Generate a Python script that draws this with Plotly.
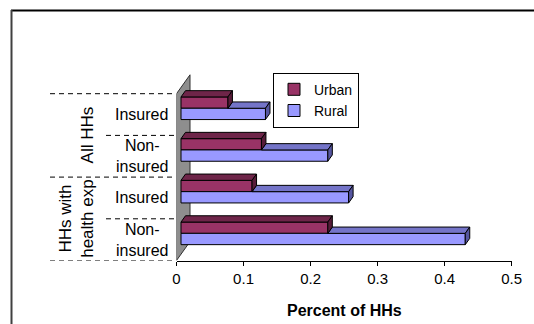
import plotly.graph_objects as go

# ---- data -------------------------------------------------------------
categories = ["Insured", "Non-<br>insured", "Insured", "Non-<br>insured"]
groups = ["All HHs", "HHs with<br>health exp"]
urban = [0.070, 0.120, 0.106, 0.219]
rural = [0.126, 0.219, 0.250, 0.424]
x_ticks = [0, 0.1, 0.2, 0.3, 0.4, 0.5]
x_title = "Percent of HHs"

# ---- layout geometry (pixels on a 534x324 canvas) ---------------------
W, H = 534, 324
X0_PX, X1_PX = 176.5, 511.7      # value axis 0 .. 0.5
Y0_PX = 260.5                    # floor line
CAT_PX = 41.7                    # height of one category band
X_MAX = 0.5
Y_MAX = 4.5                      # room above the last band for the 3-D wall
Y1_PX = Y0_PX - Y_MAX * CAT_PX

sx = X_MAX / (X1_PX - X0_PX)     # data units per pixel (x)
sy = 1.0 / CAT_PX                # data units per pixel (y)

# oblique 3-D projection: one depth step, bar thickness
dx, dy = 4.5 * sx, 6.3 * sy
bar_h = 11.3 * sy

URBAN_FRONT, URBAN_TOP, URBAN_SIDE = "#993366", "#6E2549", "#571C39"
RURAL_FRONT, RURAL_TOP, RURAL_SIDE = "#9999FF", "#7474C8", "#5656A0"
FONT = "Liberation Sans, Arial, sans-serif"

n = len(categories)
centers = [n - 0.5 - i for i in range(n)]

fig = go.Figure()

# front faces of the bars (set back one depth step from the floor front)
fig.add_trace(go.Bar(
    name="Urban", orientation="h", y=centers, x=urban, base=dx,
    width=bar_h, offset=dy,
    marker=dict(color=URBAN_FRONT, line=dict(color="black", width=1)),
    hoverinfo="skip"))
fig.add_trace(go.Bar(
    name="Rural", orientation="h", y=centers, x=rural, base=dx,
    width=bar_h, offset=dy - bar_h,
    marker=dict(color=RURAL_FRONT, line=dict(color="black", width=1)),
    hoverinfo="skip"))


def faces(polys):
    xs, ys = [], []
    for p in polys:
        for (a, b) in p + [p[0]]:
            xs.append(a)
            ys.append(b)
        xs.append(None)
        ys.append(None)
    return xs, ys


rural_top, rural_side, urban_top, urban_side = [], [], [], []
for c, u, r in zip(centers, urban, rural):
    u_end, r_end = dx + u, dx + r
    u_bot = c + dy
    u_top = u_bot + bar_h
    r_top, r_bot = u_bot, u_bot - bar_h
    if r_end > u_end:
        rural_top.append([(u_end, r_top), (u_end + dx, r_top + dy),
                          (r_end + dx, r_top + dy), (r_end, r_top)])
    rural_side.append([(r_end, r_bot), (r_end, r_top),
                       (r_end + dx, r_top + dy), (r_end + dx, r_bot + dy)])
    urban_top.append([(dx, u_top), (2 * dx, u_top + dy),
                      (u_end + dx, u_top + dy), (u_end, u_top)])
    urban_side.append([(u_end, u_bot), (u_end, u_top),
                       (u_end + dx, u_top + dy), (u_end + dx, u_bot + dy)])

for polys, col in [(rural_top, RURAL_TOP), (rural_side, RURAL_SIDE),
                   (urban_top, URBAN_TOP), (urban_side, URBAN_SIDE)]:
    xs, ys = faces(polys)
    fig.add_trace(go.Scatter(
        x=xs, y=ys, mode="lines", fill="toself", fillcolor=col,
        line=dict(color="black", width=1), showlegend=False,
        hoverinfo="skip"))

shapes = []
# grey side wall behind the category axis
wd_x, wd_y = 3 * dx, 3 * dy
shapes.append(dict(
    type="path", xref="x", yref="y", layer="below",
    path=f"M 0,0 L 0,{n} L {wd_x},{n + wd_y} L {wd_x},{wd_y} Z",
    fillcolor="#8E8E8E", line=dict(color="#303030", width=1)))

# dashed separators of the category labels
for k in range(n + 1):
    full = k % 2 == 0
    shapes.append(dict(
        type="line", xref="paper", yref="y",
        x0=(50 if full else 106) / W, x1=176 / W, y0=k, y1=k,
        line=dict(color="black", width=1, dash="5px,4px")))

# frame around the chart area
shapes.append(dict(type="line", xref="paper", yref="paper",
                   x0=11 / W, x1=1, y0=1 - 10.5 / H, y1=1 - 10.5 / H,
                   line=dict(color="black", width=2)))
shapes.append(dict(type="line", xref="paper", yref="paper",
                   x0=11.5 / W, x1=11.5 / W, y0=0, y1=1 - 10 / H,
                   line=dict(color="#404040", width=2)))

annotations = []
for c, lab in zip(centers, categories):
    annotations.append(dict(
        xref="paper", yref="y", x=170 / W, y=c, xanchor="right",
        yanchor="middle", text=lab, showarrow=False, align="center",
        font=dict(family=FONT, size=16, color="black")))
for g, (gx, gy) in zip(groups, [(87, 3.0), (77, 1.0)]):
    annotations.append(dict(
        xref="paper", yref="y", x=gx / W, y=gy, xanchor="center",
        yanchor="middle", text=g, showarrow=False, textangle=-90,
        align="center", font=dict(family=FONT, size=17, color="black")))
annotations.append(dict(
    xref="paper", yref="paper", x=(X0_PX + X1_PX) / 2 / W, y=1 - 310 / H,
    xanchor="center", yanchor="middle", text=f"<b>{x_title}</b>",
    showarrow=False, font=dict(family=FONT, size=16, color="black")))

fig.update_layout(
    width=W, height=H, autosize=False,
    margin=dict(l=0, r=0, t=0, b=0, pad=0),
    paper_bgcolor="white", plot_bgcolor="white",
    barmode="overlay", hovermode=False,
    shapes=shapes, annotations=annotations,
    xaxis=dict(
        domain=[X0_PX / W, X1_PX / W], range=[0, X_MAX],
        tickvals=x_ticks, ticktext=[f"{t:g}" for t in x_ticks],
        showgrid=False, zeroline=False, showline=True,
        linecolor="black", linewidth=1, ticks="outside", ticklen=4,
        tickwidth=1, tickcolor="black", automargin=False,
        tickfont=dict(family=FONT, size=15, color="black")),
    yaxis=dict(
        domain=[1 - Y0_PX / H, 1 - Y1_PX / H], range=[0, Y_MAX],
        visible=False, showgrid=False, zeroline=False, automargin=False),
    legend=dict(
        x=273 / W, y=1 - 72.7 / H, xanchor="left", yanchor="top",
        bgcolor="white", bordercolor="black", borderwidth=1,
        traceorder="normal", itemwidth=30,
        font=dict(family=FONT, size=14, color="black")),
    showlegend=True,
)

fig.write_html("out.html", config={"displayModeBar": False})
